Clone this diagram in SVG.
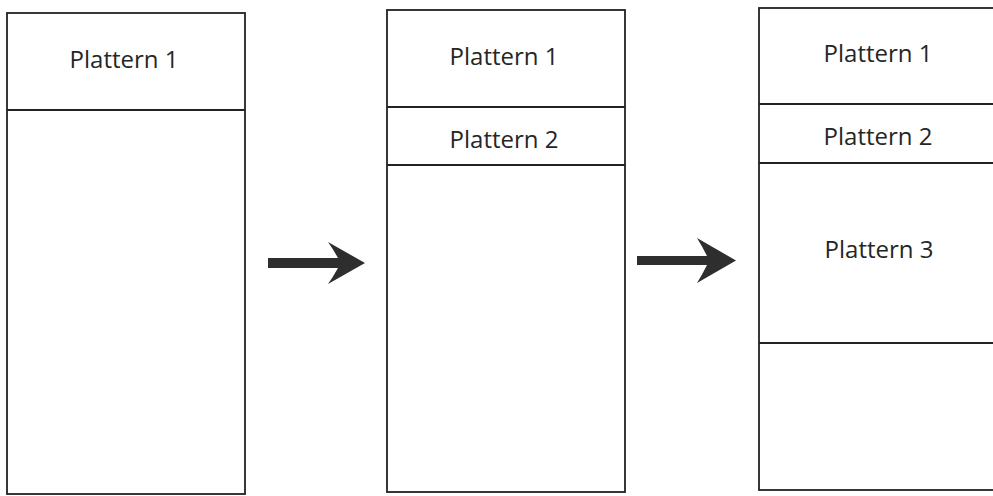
<svg xmlns="http://www.w3.org/2000/svg" width="993" height="496" viewBox="0 0 993 496">
<style>
.box{fill:#ffffff;stroke:#222;stroke-width:1.8}
.div{stroke:#222;stroke-width:1.8}
.lbl{font-family:"Open Sans","Noto Sans",sans-serif;font-size:24px;fill:#262626;text-anchor:middle}
.arr{fill:#2e2e2e}
</style>
<rect width="993" height="496" fill="#ffffff"/>
<g id="stage1">
<rect class="box" x="7" y="13" width="238" height="481"/>
<line class="div" x1="7" y1="110" x2="245" y2="110"/>
<text class="lbl" x="124" y="68">Plattern 1</text>
</g>
<g id="stage2">
<rect class="box" x="387" y="10" width="238" height="482"/>
<line class="div" x1="387" y1="107" x2="625" y2="107"/>
<line class="div" x1="387" y1="165" x2="625" y2="165"/>
<text class="lbl" x="504" y="65">Plattern 1</text>
<text class="lbl" x="504" y="148">Plattern 2</text>
</g>
<g id="stage3">
<rect class="box" x="759" y="8" width="260" height="482"/>
<line class="div" x1="759" y1="104" x2="1000" y2="104"/>
<line class="div" x1="759" y1="163" x2="1000" y2="163"/>
<line class="div" x1="759" y1="343" x2="1000" y2="343"/>
<text class="lbl" x="878" y="62">Plattern 1</text>
<text class="lbl" x="878" y="145">Plattern 2</text>
<text class="lbl" x="879" y="258">Plattern 3</text>
</g>
<g id="connectors">
<path class="arr" d="M268 258 L338 258 Q333 249 328 242 L365 263 L328 284 Q333 277 338 268 L268 268 Z"/>
<path class="arr" d="M637 256 L707 256 Q702 246 697 238 L736 260.5 L697 283 Q702 275 707 265 L637 265 Z"/>
</g>
</svg>
